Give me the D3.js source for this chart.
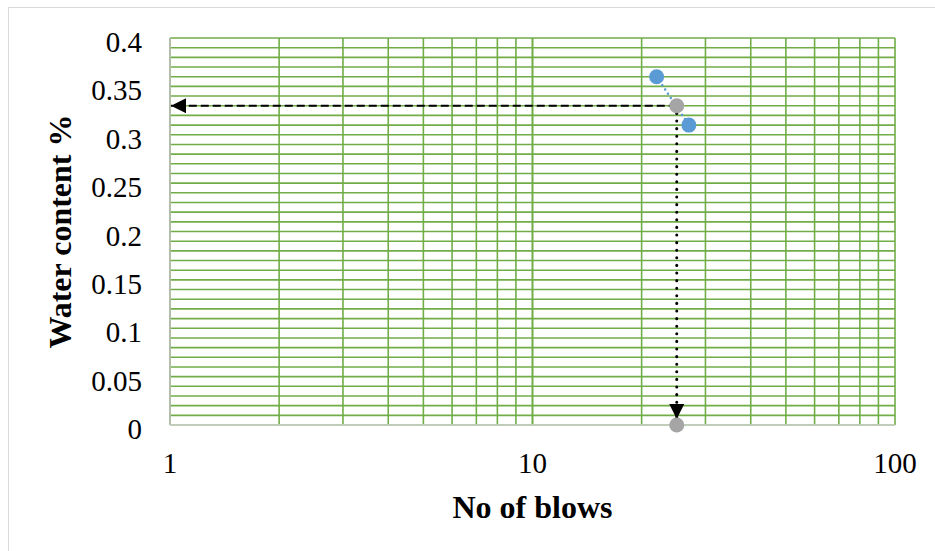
<!DOCTYPE html>
<html>
<head>
<meta charset="utf-8">
<script src="https://cdn.jsdelivr.net/npm/d3@7"></script>
<style>
  body { margin: 0; background: #fff; }
  svg { display: block; font-family: "Liberation Serif", "Times New Roman", serif; }
</style>
</head>
<body>
<svg id="chart" width="935" height="551"></svg>
<script>
// donnees
const blows = [22, 27];
const waterContent = [0.36, 0.31];
const readBlows = [25];
const readWater = [0.33];
const xTicks = [1, 10, 100];
const yTicks = [0, 0.05, 0.1, 0.15, 0.2, 0.25, 0.3, 0.35, 0.4];

const margin = {top: 38, right: 40, bottom: 126, left: 170};
const width = 935 - margin.left - margin.right;
const height = 551 - margin.top - margin.bottom;

const svg = d3.select("#chart");

// cadre du graphique
svg.append("rect")
  .attr("x", 8.5).attr("y", 7.5)
  .attr("width", 940).attr("height", 560)
  .attr("fill", "none").attr("stroke", "#d9d9d9");

const x = d3.scaleLog().domain([1, 100]).range([0, width]);
const y = d3.scaleLinear().domain([0, 0.4]).range([height, 0]);

const g = svg.append("g")
  .attr("transform", `translate(${margin.left}, ${margin.top})`);

// grille verticale (1..10, 20..100)
const vLines = [];
for (let d = 1; d <= 10; d *= 10) {
  for (let k = 1; k <= 10; k++) vLines.push(k * d);
}
const hLines = d3.range(0, 41).map(i => i / 100);

g.append("g").selectAll("line")
  .data(hLines)
  .join("line")
  .attr("x1", 0).attr("x2", width)
  .attr("y1", d => y(d)).attr("y2", d => y(d))
  .attr("stroke", "#70ad47").attr("stroke-width", 1.6);

g.append("g").selectAll("line")
  .data(vLines)
  .join("line")
  .attr("x1", d => x(d)).attr("x2", d => x(d))
  .attr("y1", 0).attr("y2", height)
  .attr("stroke", "#70ad47").attr("stroke-width", 1.6);

// axes gris
g.append("line").attr("x1", 0).attr("x2", 0).attr("y1", 0).attr("y2", height)
  .attr("stroke", "#bfbfbf").attr("stroke-width", 1.5);
g.append("line").attr("x1", 0).attr("x2", width).attr("y1", height).attr("y2", height)
  .attr("stroke", "#d0d0d0").attr("stroke-width", 1.5);

// etiquettes des axes
g.append("g").selectAll("text")
  .data(yTicks)
  .join("text")
  .attr("x", -28).attr("y", d => y(d) + 4)
  .attr("text-anchor", "end").attr("dominant-baseline", "central")
  .style("font-size", "29px")
  .text(d => d);

g.append("g").selectAll("text")
  .data(xTicks)
  .join("text")
  .attr("x", d => x(d)).attr("y", height + 38)
  .attr("text-anchor", "middle").attr("dominant-baseline", "central")
  .style("font-size", "29px")
  .text(d => d);

svg.append("text")
  .attr("x", margin.left + width / 2).attr("y", 518)
  .attr("text-anchor", "middle")
  .style("font-size", "32px").style("font-weight", "bold")
  .text("No of blows");

svg.append("text")
  .attr("transform", `translate(71, ${margin.top + height / 2}) rotate(-90)`)
  .attr("text-anchor", "middle")
  .style("font-size", "32px").style("font-weight", "bold")
  .text("Water content %");

// fleches
const defs = svg.append("defs");
defs.append("marker")
  .attr("id", "arrow")
  .attr("viewBox", "0 0 10 10")
  .attr("refX", 10).attr("refY", 5)
  .attr("markerWidth", 15).attr("markerHeight", 15)
  .attr("markerUnits", "userSpaceOnUse")
  .attr("orient", "auto")
  .append("path").attr("d", "M0,0 L10,5 L0,10 Z").attr("fill", "#000");

const rx = x(readBlows[0]), ry = y(readWater[0]);

// ligne de tendance pointillee bleue
g.append("line")
  .attr("x1", x(blows[0])).attr("y1", y(waterContent[0]))
  .attr("x2", x(blows[1])).attr("y2", y(waterContent[1]))
  .attr("stroke", "#5b9bd5").attr("stroke-width", 2.5)
  .attr("stroke-linecap", "round").attr("stroke-dasharray", "0.1 5");

g.append("line")
  .attr("x1", rx).attr("y1", ry).attr("x2", 1).attr("y2", ry)
  .attr("stroke", "#000").attr("stroke-width", 2)
  .attr("stroke-dasharray", "8 4")
  .attr("marker-end", "url(#arrow)");

g.append("line")
  .attr("x1", rx).attr("y1", ry).attr("x2", rx).attr("y2", y(0) - 6)
  .attr("stroke", "#000").attr("stroke-width", 3)
  .attr("stroke-linecap", "round").attr("stroke-dasharray", "0.1 7.5")
  .attr("marker-end", "url(#arrow)");

// points
g.append("g").selectAll("circle")
  .data([[readBlows[0], readWater[0]], [readBlows[0], 0]])
  .join("circle")
  .attr("cx", d => x(d[0])).attr("cy", d => y(d[1]))
  .attr("r", 7.5).attr("fill", "#a5a5a5");

g.append("g").selectAll("circle")
  .data(blows.map((b, i) => [b, waterContent[i]]))
  .join("circle")
  .attr("cx", d => x(d[0])).attr("cy", d => y(d[1]))
  .attr("r", 7.5).attr("fill", "#5b9bd5");
</script>
</body>
</html>
